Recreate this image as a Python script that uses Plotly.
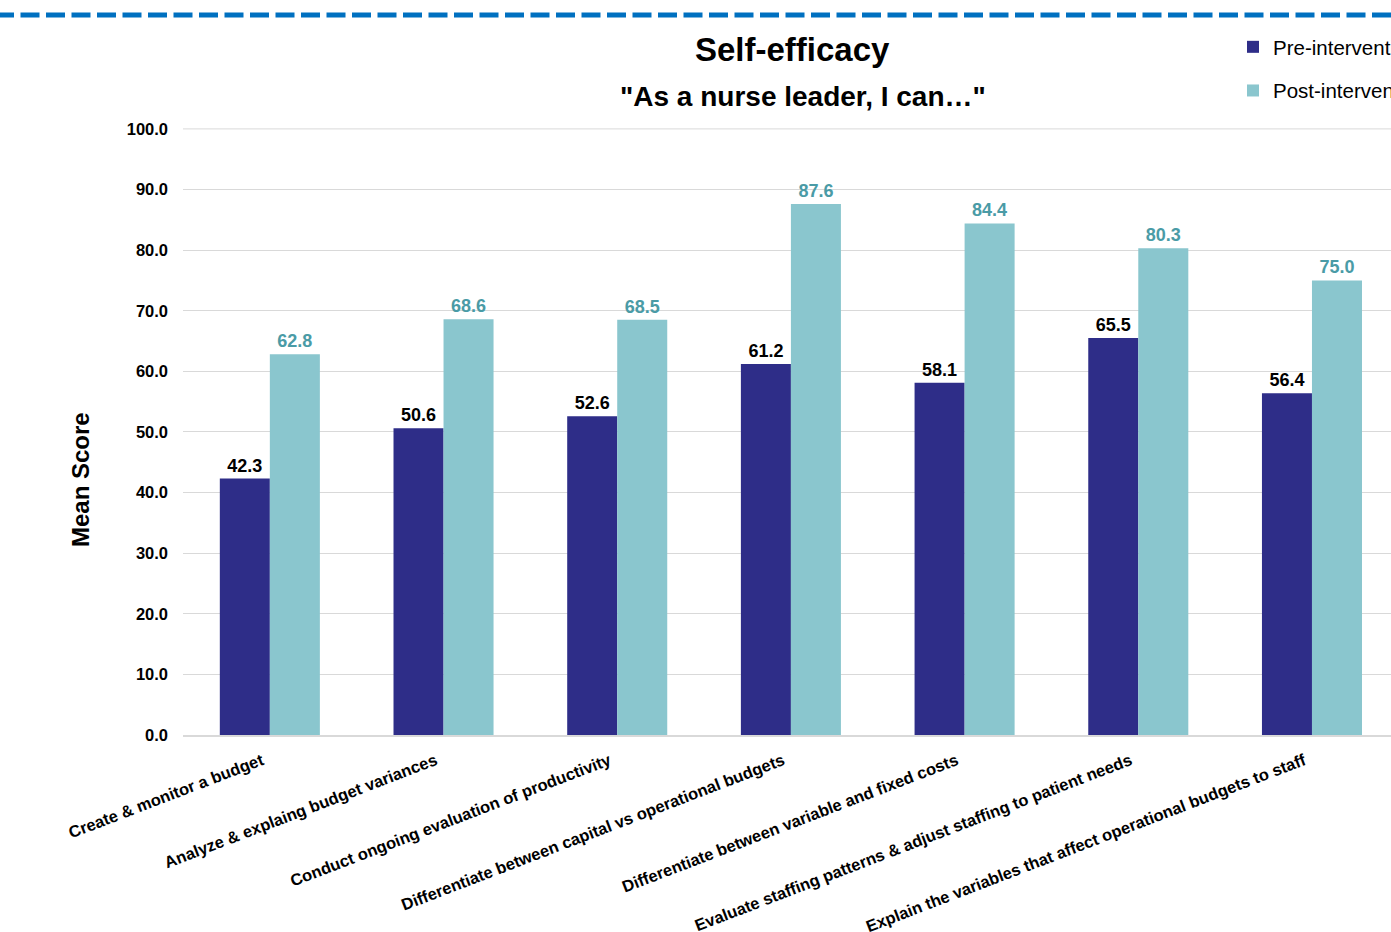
import plotly.graph_objects as go

categories = [
    "Create & monitor a budget",
    "Analyze & explaing budget variances",
    "Conduct ongoing evaluation of productivity",
    "Differentiate between capital vs operational budgets",
    "Differentiate between variable and fixed costs",
    "Evaluate staffing patterns & adjust staffing to patient needs",
    "Explain the variables that affect operational budgets to staff",
]
pre = [42.3, 50.6, 52.6, 61.2, 58.1, 65.5, 56.4]
post = [62.8, 68.6, 68.5, 87.6, 84.4, 80.3, 75.0]
y_ticks = [0, 10, 20, 30, 40, 50, 60, 70, 80, 90, 100]

W, H = 1391, 932
L, R, T, B = 183, 0, 128, 197
pw, ph = W - L - R, H - T - B

def px(x):
    return (x - L) / pw

def py(y):
    return (H - B - y) / ph

FONT = "Liberation Sans, Arial, sans-serif"

fig = go.Figure()
fig.add_trace(go.Bar(
    name="Pre-intervention", x=categories, y=pre, legendgroup="pre",
    marker=dict(color="#2E2D88", line=dict(width=0)),
    text=pre, texttemplate="%{y:.1f}", textposition="outside",
    textfont=dict(family=FONT, size=18, color="#000000", weight="bold"),
    cliponaxis=False,
))
fig.add_trace(go.Bar(
    name="Post-intervention", x=categories, y=post, legendgroup="post",
    marker=dict(color="#8AC6CE", line=dict(width=0)),
    text=post, texttemplate="%{y:.1f}", textposition="outside",
    textfont=dict(family=FONT, size=18, color="#4A9BA6", weight="bold"),
    cliponaxis=False,
))

fig.update_layout(
    width=W, height=H,
    margin=dict(l=L, r=R, t=T, b=B, autoexpand=False),
    paper_bgcolor="white", plot_bgcolor="white",
    font=dict(family=FONT, color="#000000"),
    barmode="group", bargap=0.424, bargroupgap=0,
    showlegend=True,
    legend=dict(
        x=px(1233), y=py(27), xanchor="left", yanchor="top",
        font=dict(family=FONT, size=20.5, color="#000000"),
        tracegroupgap=14, itemwidth=30, bgcolor="rgba(0,0,0,0)",
    ),
)
fig.update_xaxes(
    range=[-0.5, 6.455],
    tickangle=-21,
    tickfont=dict(family=FONT, size=16.5, color="#000000", weight="bold"),
    ticklabelstandoff=8, ticklabelshift=-8,
    showline=True, linecolor="#d9d9d9", linewidth=2,
    showgrid=False, ticks="", automargin=False,
)
fig.update_yaxes(
    range=[0, 100.15],
    tickvals=y_ticks, tickformat=".1f",
    tickfont=dict(family=FONT, size=16.5, color="#000000", weight="bold"),
    showgrid=True, gridcolor="#d9d9d9", gridwidth=1,
    zeroline=False, ticks="", ticklabelstandoff=14,
    automargin=False,
)

# top gridline at 100
fig.add_shape(
    type="line", xref="paper", yref="y", x0=0, x1=1, y0=y_ticks[-1], y1=y_ticks[-1],
    line=dict(color="#d9d9d9", width=1), layer="below",
)

# y-axis title
fig.add_annotation(
    text="<b>Mean Score</b>", xref="paper", yref="paper",
    x=px(80), y=py(480), xanchor="center", yanchor="middle", showarrow=False,
    textangle=-90, font=dict(family=FONT, size=24, color="#000000"),
)

# titles
fig.add_annotation(
    text="<b>Self-efficacy</b>", xref="paper", yref="paper",
    x=px(792), y=py(50), xanchor="center", yanchor="middle", showarrow=False,
    font=dict(family=FONT, size=33, color="#000000"),
)
fig.add_annotation(
    text="<b>\"As a nurse leader, I can…\"</b>", xref="paper", yref="paper",
    x=px(803), y=py(97), xanchor="center", yanchor="middle", showarrow=False,
    font=dict(family=FONT, size=28, color="#000000"),
)

# dashed top rule
fig.add_shape(
    type="line", xref="paper", yref="paper",
    x0=px(-5), x1=px(W + 5), y0=py(15), y1=py(15),
    line=dict(color="#0070C0", width=5, dash="19px,6.5px"),
)

fig.write_html("out.html")
